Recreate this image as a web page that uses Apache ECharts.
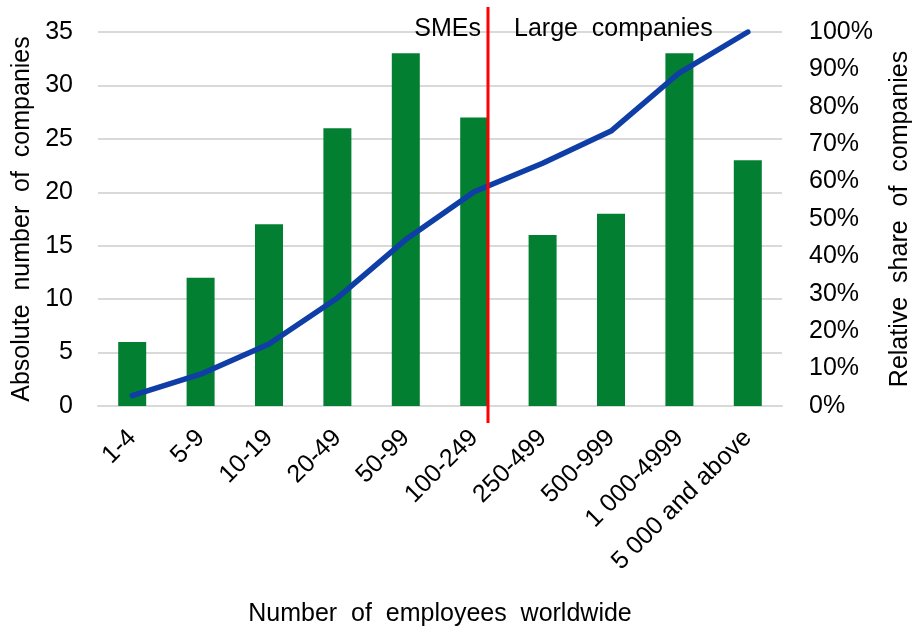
<!DOCTYPE html>
<html>
<head>
<meta charset="utf-8">
<script src="https://cdn.jsdelivr.net/npm/echarts@6/dist/echarts.min.js"></script>
<style>
  html, body { margin: 0; padding: 0; background: #fff; overflow: hidden; }
  #chart { width: 919px; height: 627px; }
</style>
</head>
<body>
<div id="chart"></div>
<script>
// Company size classes (employees worldwide)
const categories = ['1-4', '5-9', '10-19', '20-49', '50-99', '100-249',
  '250-499', '500-999', '1 000-4999', '5 000 and above'];
// Absolute number of companies per class
const companyCounts = [6, 12, 17, 26, 33, 27, 16, 18, 33, 23];
// Cumulative relative share of companies, in percent
const cumulativeShare = [2.8, 8.5, 16.6, 28.9, 44.5, 57.3, 64.9, 73.5, 89.1, 100];
// Axis ranges
const countAxis = { min: 0, max: 35, interval: 5 };
const shareAxis = { min: 0, max: 100, interval: 10 };
// Index of the last SME class; the divider sits just after its bar
const lastSmeIndex = 5;

const FONT = '"Liberation Sans", Arial, sans-serif';
const FS = 25;
const TXT = '#000000';
const BAR_W = 28;

const chart = echarts.init(document.getElementById('chart'), null, { renderer: 'canvas' });

chart.setOption({
  backgroundColor: '#ffffff',
  animation: false,
  textStyle: { fontFamily: FONT },
  grid: { left: 98, right: 137, top: 32, bottom: 221, containLabel: false, outerBoundsMode: 'none' },
  xAxis: {
    type: 'category',
    data: categories,
    name: 'Number  of  employees  worldwide',
    nameLocation: 'middle',
    nameGap: 196,
    nameTextStyle: { fontSize: FS, color: TXT, fontFamily: FONT },
    axisLine: { show: true, lineStyle: { color: '#d9d9d9', width: 2 } },
    axisTick: { show: false },
    axisLabel: { rotate: 45, fontSize: FS, color: TXT, margin: 28, fontFamily: FONT, interval: 0 }
  },
  yAxis: [
    {
      type: 'value',
      min: countAxis.min, max: countAxis.max, interval: countAxis.interval,
      name: 'Absolute  number  of  companies',
      nameLocation: 'middle',
      nameGap: 58,
      nameRotate: 90,
      nameTextStyle: { fontSize: FS, color: TXT, fontFamily: FONT },
      axisLine: { show: false },
      axisTick: { show: false },
      axisLabel: { fontSize: FS, color: TXT, margin: 25, fontFamily: FONT },
      splitLine: { show: true, lineStyle: { color: '#d9d9d9', width: 2 } }
    },
    {
      type: 'value',
      min: shareAxis.min, max: shareAxis.max, interval: shareAxis.interval,
      name: 'Relative  share  of  companies',
      nameLocation: 'middle',
      nameGap: 106,
      nameRotate: 90,
      nameTextStyle: { fontSize: FS, color: TXT, fontFamily: FONT },
      axisLine: { show: false },
      axisTick: { show: false },
      axisLabel: { fontSize: FS, color: TXT, margin: 27, fontFamily: FONT, formatter: '{value}%' },
      splitLine: { show: false }
    }
  ],
  series: [
    {
      name: 'Absolute number of companies',
      type: 'bar',
      data: companyCounts,
      barWidth: BAR_W,
      itemStyle: { color: '#037f32' },
      z: 2
    },
    {
      name: 'Relative share of companies',
      type: 'line',
      yAxisIndex: 1,
      data: cumulativeShare,
      symbol: 'none',
      smooth: false,
      lineStyle: { color: '#0f3ea6', width: 5.5, cap: 'round', join: 'round' },
      z: 4
    }
  ]
});

// Divider between SMEs and large companies, placed right after the last SME bar
function drawDivider() {
  const cx = chart.convertToPixel({ xAxisIndex: 0 }, lastSmeIndex);
  const x = Math.round(cx + BAR_W / 2);
  const yBase = chart.convertToPixel({ yAxisIndex: 0 }, 0);
  chart.setOption({
    graphic: [
      {
        type: 'line', z: 10,
        shape: { x1: x, y1: 7, x2: x, y2: yBase + 17 },
        style: { stroke: '#ff0000', lineWidth: 3 }
      },
      {
        type: 'text', z: 10, x: x - 7, y: 29,
        style: { text: 'SMEs', font: FS + 'px ' + FONT, fill: TXT, align: 'right', verticalAlign: 'middle' }
      },
      {
        type: 'text', z: 10, x: x + 26, y: 29,
        style: { text: 'Large  companies', font: FS + 'px ' + FONT, fill: TXT, align: 'left', verticalAlign: 'middle' }
      }
    ]
  });
}
drawDivider();
</script>
</body>
</html>
